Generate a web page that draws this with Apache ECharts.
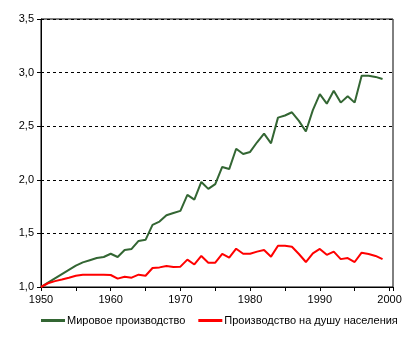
<!DOCTYPE html>
<html>
<head>
<meta charset="utf-8">
<script src="https://cdn.jsdelivr.net/npm/echarts@6/dist/echarts.min.js"></script>
<style>
  html, body { margin: 0; padding: 0; background: #fff; }
  #chart { width: 409px; height: 351px; }
</style>
</head>
<body>
<div id="chart"></div>
<script>
// годы и индексы (1950 = 1,0)
var years = [1950, 1951, 1952, 1953, 1954, 1955, 1956, 1957, 1958, 1959,
             1960, 1961, 1962, 1963, 1964, 1965, 1966, 1967, 1968, 1969,
             1970, 1971, 1972, 1973, 1974, 1975, 1976, 1977, 1978, 1979,
             1980, 1981, 1982, 1983, 1984, 1985, 1986, 1987, 1988, 1989,
             1990, 1991, 1992, 1993, 1994, 1995, 1996, 1997, 1998, 1999];

var worldOutput = [1.00, 1.04, 1.08, 1.12, 1.16, 1.20, 1.23, 1.25, 1.27, 1.28,
                   1.31, 1.28, 1.345, 1.355, 1.43, 1.44, 1.58, 1.61, 1.67, 1.69,
                   1.71, 1.86, 1.815, 1.98, 1.915, 1.96, 2.12, 2.10, 2.29, 2.24,
                   2.26, 2.35, 2.43, 2.34, 2.58, 2.60, 2.63, 2.55, 2.45, 2.65,
                   2.80, 2.71, 2.83, 2.72, 2.78, 2.72, 2.97, 2.97, 2.96, 2.94];

var perCapita = [1.00, 1.035, 1.055, 1.07, 1.087, 1.105, 1.115, 1.115, 1.115, 1.115,
                 1.112, 1.078, 1.096, 1.087, 1.115, 1.105, 1.177, 1.183, 1.196, 1.187,
                 1.19, 1.255, 1.21, 1.29, 1.227, 1.227, 1.308, 1.273, 1.357, 1.31,
                 1.31, 1.33, 1.345, 1.283, 1.385, 1.385, 1.376, 1.308, 1.233, 1.314,
                 1.355, 1.30, 1.33, 1.26, 1.27, 1.233, 1.32, 1.308, 1.29, 1.26];

var seriesNames = ['Мировое производство', 'Производство на душу населения'];

function pairs(vals) {
  return years.map(function (y, i) { return [y, vals[i]]; });
}

var font = 'Arial, "Liberation Sans", sans-serif';
var chart = echarts.init(document.getElementById('chart'));
chart.setOption({
  animation: false,
  grid: {
    left: 41, top: 19, right: 16, bottom: 64,
    show: true, borderColor: '#000', borderWidth: 1, backgroundColor: 'transparent'
  },
  legend: {
    data: seriesNames,
    left: 36, top: 310,
    icon: 'rect', itemWidth: 24, itemHeight: 3, itemGap: 13,
    textStyle: { fontFamily: font, fontSize: 11, color: '#000', padding: [0, 0, 0, -3] }
  },
  xAxis: {
    type: 'value', min: 1950, max: 2000.5, interval: 5,
    axisLine: { lineStyle: { color: '#000', width: 1 } },
    axisTick: { length: 4, lineStyle: { color: '#000' } },
    splitLine: { show: false },
    axisLabel: {
      color: '#000', fontFamily: font, fontSize: 11, margin: 7,
      formatter: function (v) { return v % 10 === 0 ? String(v) : ''; }
    }
  },
  yAxis: {
    type: 'value', min: 1, max: 3.5, interval: 0.5,
    axisLine: { show: true, lineStyle: { color: '#000', width: 1 } },
    axisTick: { show: true, length: 4, lineStyle: { color: '#000' } },
    splitLine: { lineStyle: { color: '#000', type: [3, 3], width: 1 } },
    axisLabel: {
      color: '#000', fontFamily: font, fontSize: 11, margin: 7,
      formatter: function (v) { return v.toFixed(1).replace('.', ','); }
    }
  },
  series: [
    {
      name: seriesNames[0], type: 'line', data: pairs(worldOutput),
      symbol: 'none', itemStyle: { color: '#336633' },
      lineStyle: { color: '#336633', width: 2 }
    },
    {
      name: seriesNames[1], type: 'line', data: pairs(perCapita),
      symbol: 'none', itemStyle: { color: '#ff0000' },
      lineStyle: { color: '#ff0000', width: 2 }
    }
  ]
});
</script>
</body>
</html>
